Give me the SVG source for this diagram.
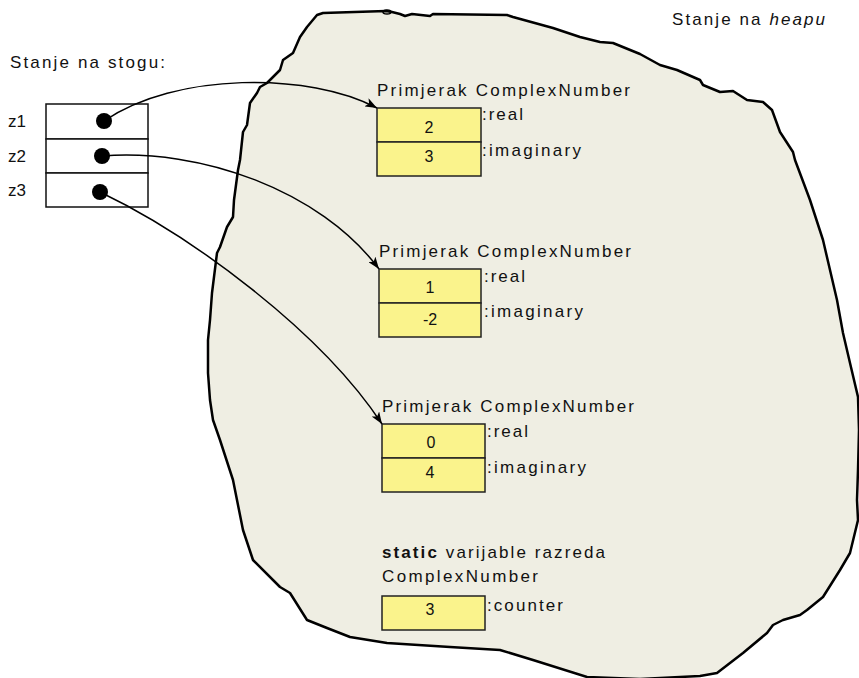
<svg xmlns="http://www.w3.org/2000/svg" width="859" height="678" viewBox="0 0 859 678">
<defs>
<style>
text{font-family:"Liberation Sans",Arial,sans-serif;font-size:17px;fill:#111}
.val{font-size:16px;text-anchor:middle}
.cell{fill:#faf38c;stroke:#222;stroke-width:1.5}
.sbox{fill:#fff;stroke:#111;stroke-width:1.5}
.conn{fill:none;stroke:#000;stroke-width:1.5}
</style>
<marker id="ah" viewBox="0 0 12 9" refX="12" refY="4.5" markerWidth="12" markerHeight="9" markerUnits="userSpaceOnUse" orient="auto">
<path d="M0,0 L12,4.5 L0,9 L3,4.5 z" fill="#000"/>
</marker>
</defs>
<rect width="859" height="678" fill="#fff"/>
<g id="heap">
<path d="M323,13 L386,11 L392,12 L400,14 L405,16 L412,14 L430,16 L433,14 L507,15 L513,17 L553,28 L580,37 L600,42 L613,43 L640,54 L660,65 L677,70 L700,80 L703,85 L720,92 L733,91 L747,100 L763,102 L772,110 L780,132 L793,152 L795,160 L810,200 L823,240 L837,300 L843,333 L850,363 L858,397 L859,430 L858,470 L857,500 L858,520 L850,553 L840,570 L823,597 L807,610 L800,615 L783,620 L773,625 L767,633 L743,653 L717,673 L700,676 L680,677 L640,679 L587,677 L533,660 L500,650 L450,647 L387,643 L350,637 L327,628 L307,620 L290,593 L280,587 L253,560 L243,530 L233,480 L220,440 L213,420 L210,400 L208,373 L208,340 L210,320 L212,293 L217,253 L220,247 L227,227 L233,217 L234,200 L238,170 L240,160 L243,132 L247,125 L250,103 L257,93 L260,87 L267,83 L273,77 L280,70 L283,60 L293,53 L300,37 L307,27 L317,15 Z" fill="#efeee3" stroke="#000" stroke-width="2.5" stroke-linejoin="round"/>
<ellipse cx="387" cy="12" rx="4" ry="2" fill="none" stroke="#000" stroke-width="1.5"/>
<text x="672" y="25" textLength="153" lengthAdjust="spacing">Stanje na <tspan font-style="italic">heapu</tspan></text>
</g>
<g id="stack">
<text x="10" y="68" textLength="155" lengthAdjust="spacing">Stanje na stogu:</text>
<rect class="sbox" x="46" y="104" width="102" height="35"/>
<rect class="sbox" x="46" y="139" width="102" height="34"/>
<rect class="sbox" x="46" y="173" width="102" height="34"/>
<text x="8" y="127">z1</text>
<text x="8" y="162">z2</text>
<text x="8" y="196">z3</text>
<circle cx="104" cy="121" r="8" fill="#000"/>
<circle cx="102" cy="156" r="8" fill="#000"/>
<circle cx="100" cy="192" r="8" fill="#000"/>
</g>
<g id="obj1">
<text x="377" y="96" textLength="253" lengthAdjust="spacing">Primjerak ComplexNumber</text>
<rect class="cell" x="377" y="108" width="104" height="34"/>
<rect class="cell" x="377" y="142" width="104" height="34"/>
<text class="val" x="429" y="133">2</text>
<text class="val" x="429" y="162">3</text>
<text x="482" y="120" textLength="41" lengthAdjust="spacing">:real</text>
<text x="482" y="156" textLength="99" lengthAdjust="spacing">:imaginary</text>
</g>
<g id="obj2">
<text x="379" y="257" textLength="252" lengthAdjust="spacing">Primjerak ComplexNumber</text>
<rect class="cell" x="379" y="269" width="102" height="34"/>
<rect class="cell" x="379" y="303" width="102" height="34"/>
<text class="val" x="430" y="293">1</text>
<text class="val" x="430" y="325">-2</text>
<text x="484" y="282" textLength="41" lengthAdjust="spacing">:real</text>
<text x="484" y="317" textLength="99" lengthAdjust="spacing">:imaginary</text>
</g>
<g id="obj3">
<text x="382" y="412" textLength="252" lengthAdjust="spacing">Primjerak ComplexNumber</text>
<rect class="cell" x="382" y="424" width="103" height="34"/>
<rect class="cell" x="382" y="458" width="103" height="34"/>
<text class="val" x="431" y="448">0</text>
<text class="val" x="430" y="478">4</text>
<text x="487" y="437" textLength="41" lengthAdjust="spacing">:real</text>
<text x="487" y="473" textLength="99" lengthAdjust="spacing">:imaginary</text>
</g>
<g id="static">
<text x="382" y="558" textLength="223" lengthAdjust="spacing"><tspan font-weight="bold">static</tspan> varijable razreda</text>
<text x="382" y="582" textLength="156" lengthAdjust="spacing">ComplexNumber</text>
<rect class="cell" x="382" y="596" width="103" height="34"/>
<text class="val" x="430" y="615">3</text>
<text x="487" y="611" textLength="76" lengthAdjust="spacing">:counter</text>
</g>
<g id="connectors">
<path class="conn" d="M104,121 C175,72 310,72 377,108" marker-end="url(#ah)"/>
<path class="conn" d="M102,156 C200,148 320,190 379,269" marker-end="url(#ah)"/>
<path class="conn" d="M100,192 C190,235 320,330 382,424" marker-end="url(#ah)"/>
</g>
</svg>
